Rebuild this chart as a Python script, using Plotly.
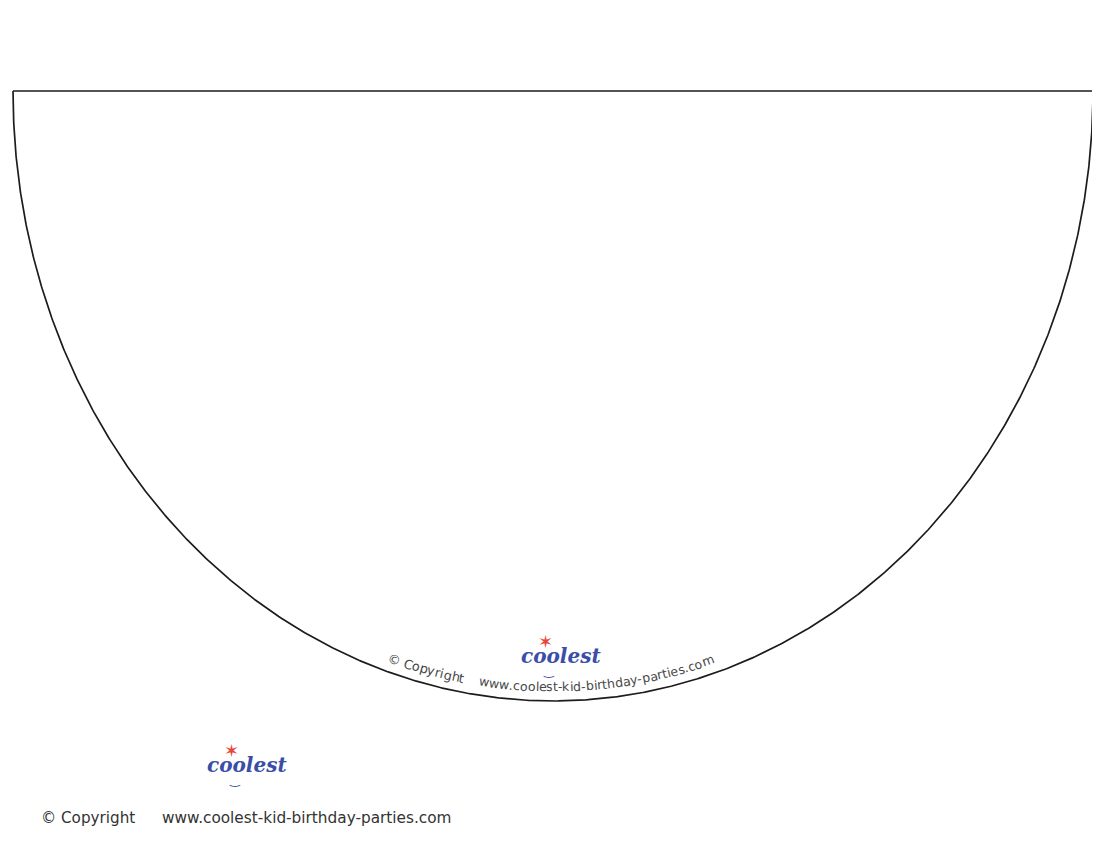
import numpy as np
import plotly.graph_objects as go

# page is laid out in screen pixels, y grows downwards
W, H = 1100, 850
PAD = 8  # default body margin of the html page

# cone template outline: straight top edge + half ellipse below it
top_y = 91
left_x, right_x = 13, 1093
bottom_y = 701

# texts
curve_copyright = "© Copyright"
curve_url = "www.coolest-kid-birthday-parties.com"
footer_copyright = "© Copyright"
footer_url = "www.coolest-kid-birthday-parties.com"
logo_word = "coolest"

# rough DejaVu Sans advance widths (fraction of em)
adv = {
    "w": 0.818, ".": 0.318, "c": 0.550, "o": 0.612, "l": 0.278, "e": 0.615,
    "s": 0.521, "t": 0.392, "-": 0.361, "k": 0.579, "i": 0.278, "d": 0.635,
    "b": 0.635, "r": 0.411, "h": 0.634, "a": 0.613, "y": 0.592, "p": 0.635,
    "m": 0.974, " ": 0.318, "C": 0.698, "g": 0.635, "©": 1.0,
}

cx = (left_x + right_x) / 2
rx = (right_x - left_x) / 2
ry = bottom_y - top_y

fig = go.Figure()

# outline
t = np.linspace(0, np.pi, 800)
ox = np.concatenate([cx - rx * np.cos(t), [left_x]])
oy = np.concatenate([top_y + ry * np.sin(t), [top_y]])
fig.add_trace(go.Scatter(x=ox, y=oy, mode="lines",
                         line=dict(color="#1c1c1c", width=1.7),
                         hoverinfo="skip", showlegend=False))

# text path: ellipse a little inside the outline
trx, try_ = rx - 12, ry - 14
tt = np.linspace(0.05, np.pi - 0.05, 4000)
px = cx - trx * np.cos(tt)
py = top_y + try_ * np.sin(tt)
seg = np.hypot(np.diff(px), np.diff(py))
arc = np.concatenate([[0], np.cumsum(seg)])


def curved_text(text, x_start, size, color):
    s = np.interp(x_start, px, arc)
    for ch in text:
        w = adv.get(ch, 0.6) * size
        sc = s + w / 2
        tc = np.interp(sc, arc, tt)
        x = cx - trx * np.cos(tc)
        y = top_y + try_ * np.sin(tc)
        ang = np.degrees(np.arctan2(try_ * np.cos(tc), trx * np.sin(tc)))
        if ch != " ":
            fig.add_annotation(x=x, y=y, text=ch, showarrow=False,
                               textangle=ang, xanchor="center", yanchor="middle",
                               font=dict(family="DejaVu Sans", size=size, color=color))
        s += w


curved_text(curve_copyright, 388, 12.8, "#484848")
curved_text(curve_url, 479, 12.5, "#484848")


def logo(x, y, size):
    fig.add_annotation(x=x, y=y, text=logo_word, showarrow=False,
                       xanchor="center", yanchor="middle",
                       font=dict(family="DejaVu Serif", size=size, color="#3a4ea8",
                                 weight="bold", style="italic"))
    fig.add_annotation(x=x - size * 0.8, y=y - size * 0.75, text="✶", showarrow=False,
                       xanchor="center", yanchor="middle",
                       font=dict(family="DejaVu Sans", size=size * 0.9, color="#e8453c"))
    fig.add_annotation(x=x - size * 0.6, y=y + size * 0.75, text="‿", showarrow=False,
                       xanchor="center", yanchor="middle",
                       font=dict(family="DejaVu Sans", size=size * 0.6, color="#3a4ea8"))


logo(561, 656, 20)
logo(247, 765, 20)

# footer
fig.add_annotation(x=39, y=818, text=footer_copyright, showarrow=False,
                   xanchor="left", yanchor="middle",
                   font=dict(family="DejaVu Sans", size=15.2, color="#333333"))
fig.add_annotation(x=160, y=818, text=footer_url, showarrow=False,
                   xanchor="left", yanchor="middle",
                   font=dict(family="DejaVu Sans", size=15.3, color="#333333"))

# axes in page pixels, shifted so marks land where they sit in the page
fig.update_xaxes(range=[PAD, W], visible=False, fixedrange=True)
fig.update_yaxes(range=[H, PAD], visible=False, fixedrange=True)
fig.update_layout(width=W - PAD, height=H - PAD, margin=dict(l=0, r=0, t=0, b=0),
                  paper_bgcolor="white", plot_bgcolor="white")

fig.write_html("out.html")
